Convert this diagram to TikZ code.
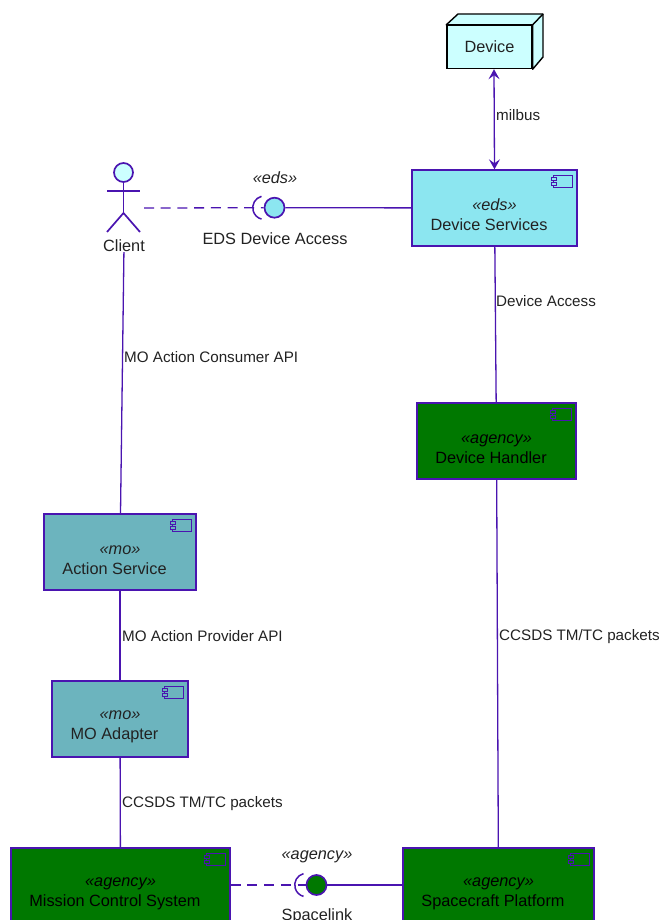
\documentclass[tikz,border=0pt]{standalone}
\usepackage{xcolor}
\usepackage{fontspec}
\setmainfont{Liberation Sans}
\usetikzlibrary{arrows.meta}
\definecolor{linecol}{HTML}{4A14B0}
\definecolor{txtcol}{HTML}{222222}
\definecolor{edscol}{HTML}{8CE6F0}
\definecolor{mocol}{HTML}{6CB4BE}
\definecolor{agencycol}{HTML}{007800}
\definecolor{devcol}{HTML}{CCFFFF}
\newcommand{\comptext}[2]{\mbox{}\\[5pt]{\itshape «#1»}\hspace*{11pt}\\#2\hspace*{11pt}}
\tikzset{
  comp/.style={draw=linecol, line width=1.4pt, inner sep=0pt, minimum height=76pt,
    align=center, text=txtcol, font=\fontsize{16.3}{20}\selectfont},
  lbl/.style={inner sep=0pt, text=txtcol, font=\fontsize{15.2}{18}\selectfont},
  ifacetxt/.style={inner sep=0pt, text=txtcol, font=\fontsize{16.3}{20}\selectfont},
  wire/.style={draw=linecol, line width=1.3pt},
  iface/.style={circle, draw=linecol, line width=1.7pt, minimum size=20pt, inner sep=0pt},
  tip/.style={{Stealth[inset=4pt,length=10pt,width=11pt]}-{Stealth[inset=4pt,length=10pt,width=11pt]}},
}
\begin{document}
\begin{tikzpicture}[x=1pt,y=-1pt]
    \useasboundingbox (0,0) rectangle (660,920);
    \clip (0,0) rectangle (660,920);
    % boxes
    \node[comp, fill=edscol, minimum width=165pt] (devserv) at (494.5,208) {\comptext{eds}{Device Services}};
    \node[comp, fill=agencycol, minimum width=159pt, text=black] (handler) at (496.5,441) {\comptext{agency}{Device Handler}};
    \node[comp, fill=mocol, minimum width=152pt] (action) at (120,552) {\comptext{mo}{Action Service}};
    \node[comp, fill=mocol, minimum width=136pt] (adapter) at (120,719) {\comptext{mo}{MO Adapter}};
    \node[comp, fill=agencycol, minimum width=219pt, text=black] (mcs) at (120.5,886) {\comptext{agency}{Mission Control System}};
    \node[comp, fill=agencycol, minimum width=191pt, text=black] (platform) at (498.5,886) {\comptext{agency}{Spacecraft Platform}};
    % small component icons
    \foreach \n/\c in {devserv/edscol,handler/agencycol,action/mocol,adapter/mocol,mcs/agencycol,platform/agencycol} {
      \draw[draw=linecol, line width=1.4pt] ([xshift=-24pt,yshift=-6pt]\n.north east) rectangle ([xshift=-5pt,yshift=-18pt]\n.north east);
      \draw[draw=linecol, line width=1.2pt, fill=\c] ([xshift=-26.5pt,yshift=-8pt]\n.north east) rectangle ([xshift=-21.5pt,yshift=-11.5pt]\n.north east);
      \draw[draw=linecol, line width=1.2pt, fill=\c] ([xshift=-26.5pt,yshift=-13pt]\n.north east) rectangle ([xshift=-21.5pt,yshift=-16.5pt]\n.north east);
    }
    % device
    \node[draw=black, line width=1.4pt, fill=devcol, minimum width=85pt, minimum height=43pt, inner sep=0pt, text=txtcol, font=\fontsize{16.3}{20}\selectfont] (device) at (489.5,47) {\raisebox{-1pt}{Device}};
    \draw[draw=black, line width=1.4pt, fill=devcol, line join=round] (device.north west) -- (458,14) -- (543,14) -- (543,57) -- (device.south east) -- (device.north east) -- cycle;
    \draw[draw=black, line width=1.4pt] (device.north east) -- (543,14);
    % actor
    \node[circle, draw=linecol, line width=1.7pt, fill=devcol, minimum size=19pt, inner sep=0pt] (head) at (123.5,172.5) {};
    \coordinate (hip) at (123.5,213);
    \draw[wire, line width=1.7pt] (head.south) -- (hip);
    \draw[wire, line width=1.7pt] (107,191) -- (140,191);
    \draw[wire, line width=1.7pt] (107,232) -- (hip) -- (140,232);
    \node[ifacetxt] (client) at (124,246) {Client};
    \coordinate (clientout) at (144,208);
    % interfaces
    \node[iface, fill=edscol] (edsif) at (274.5,207.7) {};
    \node[iface, fill=agencycol] (spaceif) at (316.5,885) {};
    \draw[wire, dash pattern=on 10pt off 6.7pt] (clientout) -- (edsif);
    \draw[wire, dash pattern=on 10pt off 6.7pt] (mcs.east |- spaceif) -- (spaceif);
    \draw[wire] (edsif) -- (devserv);
    \draw[wire] (spaceif) -- (platform.west |- spaceif);
    \draw[draw=linecol, line width=1.5pt] ([xshift=-13pt,yshift=11.4pt]edsif.center) arc[start angle=105, delta angle=150, radius=11.8pt];
    \draw[draw=linecol, line width=1.5pt] ([xshift=-13pt,yshift=11.4pt]spaceif.center) arc[start angle=105, delta angle=150, radius=11.8pt];
    % connectors
    \draw[wire, tip] ([xshift=4.5pt]device.south) -- (devserv.north);
    \draw[wire] (devserv) -- (handler);
    \draw[wire] (handler) -- (platform);
    \draw[wire] (client) -- (action);
    \draw[wire] (action) -- (adapter);
    \draw[wire] (adapter) -- (mcs);
    % labels
    \node[lbl, anchor=west] (l1) at (496,115.5) {milbus};
    \node[lbl, anchor=west] (l2) at (496,301.5) {Device Access};
    \node[lbl, anchor=west] (l3) at (124,357.5) {MO Action Consumer API};
    \node[lbl, anchor=west] (l4) at (499,636.5) {CCSDS TM/TC packets};
    \node[lbl, anchor=west] (l5) at (122,636) {MO Action Provider API};
    \node[lbl, anchor=west] (l6) at (122,803.5) {CCSDS TM/TC packets};
    \node[ifacetxt, font=\fontsize{16.3}{20}\itshape] (s1) at (275,178) {«eds»};
    \node[ifacetxt] (n1) at (275,239) {EDS Device Access};
    \node[ifacetxt, font=\fontsize{16.3}{20}\itshape] (s2) at (317,857) {«agency»};
    \node[ifacetxt] (n2) at (317,916) {Spacelink};
\end{tikzpicture}
\end{document}
